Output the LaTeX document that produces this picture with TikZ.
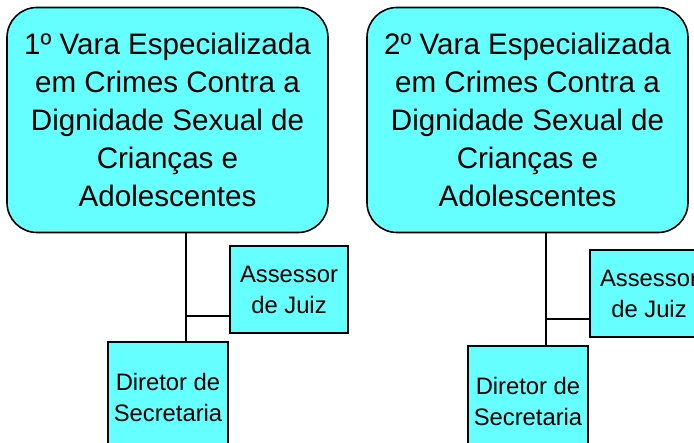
\documentclass[tikz,border=0pt]{standalone}
\usepackage{fontspec}
\setmainfont{Liberation Sans}
\definecolor{boxcyan}{RGB}{102,255,255}
\begin{document}
\begin{tikzpicture}[x=1pt,y=-1pt,
  vara/.style={draw=black,line width=1.6pt,fill=boxcyan,rounded corners=30pt,
    minimum width=321pt,minimum height=225pt,inner sep=0pt,align=center,
    font=\fontsize{29.6}{37.8}\selectfont},
  sub/.style={draw=black,line width=1.6pt,fill=boxcyan,inner sep=0pt,align=center,
    font=\fontsize{23.8}{31}\selectfont},
  conn/.style={line width=1.6pt,draw=black}]
\useasboundingbox (0,0) rectangle (694,443);
\clip (0,0) rectangle (694,443);
\fill[white] (0,0) rectangle (694,443);
% first branch
\node[vara] (v1) at (167.5,120) {1º Vara Especializada\\em Crimes Contra a\\Dignidade Sexual de\\Crianças e\\Adolescentes};
\node[sub,minimum width=118pt,minimum height=87pt] (a1) at (289,289.5) {Assessor\\de Juiz};
\node[sub,minimum width=120pt,minimum height=110pt] (d1) at (168,397) {Diretor de\\Secretaria};
\coordinate (j1) at (186,316);
% second branch
\node[vara] (v2) at (527.5,120) {2º Vara Especializada\\em Crimes Contra a\\Dignidade Sexual de\\Crianças e\\Adolescentes};
\node[sub,minimum width=118pt,minimum height=87pt] (a2) at (649,293.5) {Assessor\\de Juiz};
\node[sub,minimum width=120pt,minimum height=110pt] (d2) at (528,401) {Diretor de\\Secretaria};
\coordinate (j2) at (546,319);
% connectors
\draw[conn] (v1.south -| j1) -- (d1.north -| j1);
\draw[conn] (j1) -- (a1.west |- j1);
\draw[conn] (v2.south -| j2) -- (d2.north -| j2);
\draw[conn] (j2) -- (a2.west |- j2);
\end{tikzpicture}
\end{document}
